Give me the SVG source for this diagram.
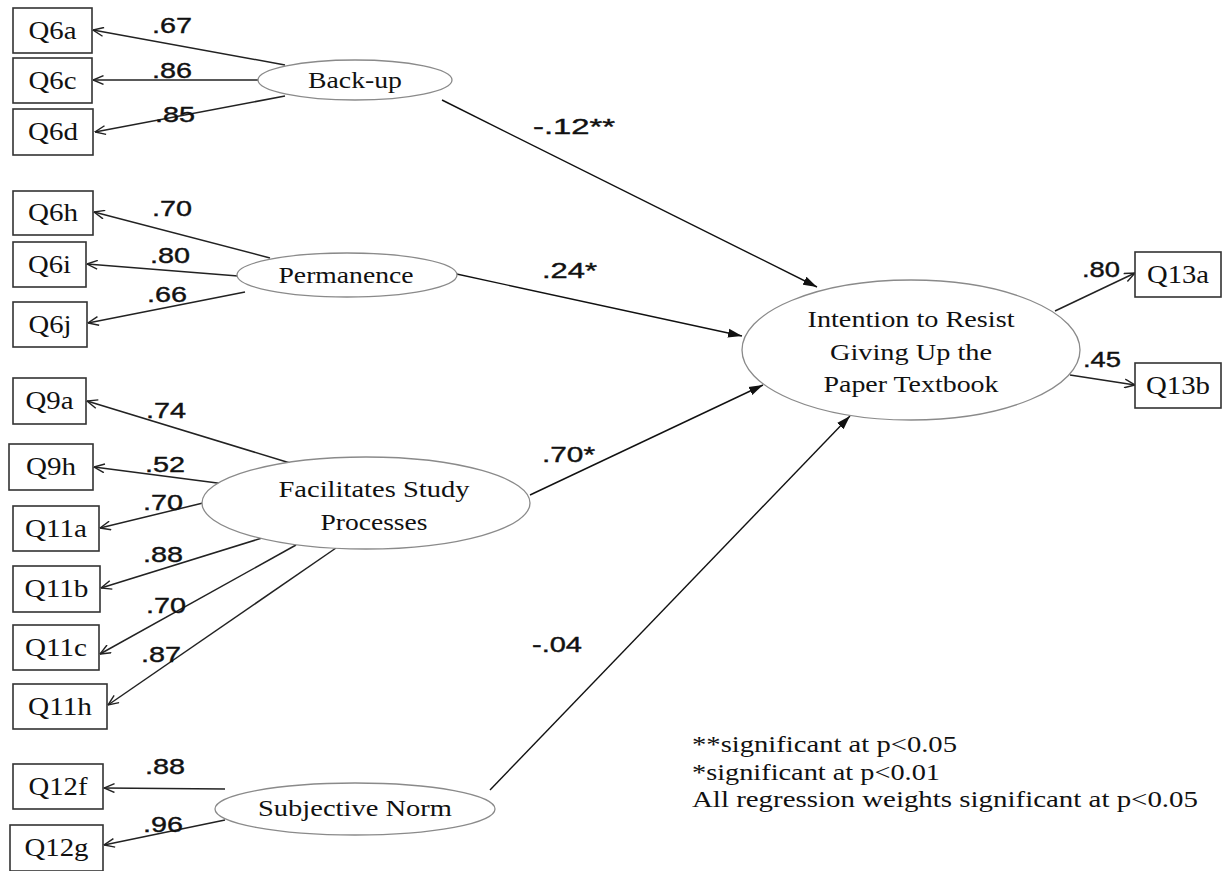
<svg xmlns="http://www.w3.org/2000/svg" width="1225" height="871" viewBox="0 0 1225 871">
<style>
  .box { fill: #ffffff; stroke: #333333; stroke-width: 1.6; }
  .lat { fill: #ffffff; stroke: #8a8a8a; stroke-width: 1.3; }
  .bt { font-family: "Liberation Serif", "Times New Roman", serif; font-size: 25px; fill: #111111; text-anchor: middle; }
  .et { font-family: "Liberation Serif", "Times New Roman", serif; font-size: 24px; fill: #111111; text-anchor: middle; }
  .lg { font-family: "Liberation Serif", "Times New Roman", serif; font-size: 23px; fill: #111111; }
  .num { font-family: "Liberation Sans", Arial, sans-serif; font-size: 22px; fill: #111111; stroke: #111111; stroke-width: 0.4; }
  .ind { stroke: #222222; stroke-width: 1.5; fill: none; marker-end: url(#open); }
  .path { stroke: #111111; stroke-width: 1.4; fill: none; marker-end: url(#solid); }
</style>
<defs>
  <marker id="open" viewBox="0 0 12 10" markerWidth="12" markerHeight="10" refX="11.5" refY="5" orient="auto" markerUnits="userSpaceOnUse">
    <path d="M1,0.6 L11.5,5 L1,9.4" fill="none" stroke="#222222" stroke-width="1.4"/>
  </marker>
  <marker id="solid" viewBox="0 0 14 10" markerWidth="14" markerHeight="10" refX="14" refY="5" orient="auto" markerUnits="userSpaceOnUse">
    <path d="M0,0.5 L14,5 L0,9.5 Z" fill="#111111"/>
  </marker>
</defs>
<rect width="1225" height="871" fill="#ffffff"/>

<g id="connectors">
  <line class="ind" x1="285" y1="65" x2="93" y2="30"/>
  <line class="ind" x1="258" y1="80" x2="93" y2="80"/>
  <line class="ind" x1="285" y1="96" x2="95" y2="132"/>
  <line class="ind" x1="270" y1="258" x2="94" y2="212"/>
  <line class="ind" x1="238" y1="276" x2="87" y2="264"/>
  <line class="ind" x1="245" y1="292" x2="88" y2="323"/>
  <line class="ind" x1="290" y1="463" x2="87" y2="401"/>
  <line class="ind" x1="225" y1="484" x2="94" y2="467"/>
  <line class="ind" x1="203" y1="503" x2="100" y2="528"/>
  <line class="ind" x1="262" y1="538" x2="101" y2="588"/>
  <line class="ind" x1="296" y1="545" x2="100" y2="654"/>
  <line class="ind" x1="336" y1="548" x2="108" y2="705"/>
  <line class="ind" x1="225" y1="789" x2="104" y2="788"/>
  <line class="ind" x1="225" y1="820" x2="104" y2="845"/>
  <line class="ind" x1="1055" y1="311" x2="1135" y2="273"/>
  <line class="ind" x1="1070" y1="375" x2="1135" y2="385"/>
  <line class="path" x1="442" y1="100" x2="817" y2="287"/>
  <line class="path" x1="452" y1="273" x2="742" y2="336"/>
  <line class="path" x1="530" y1="495" x2="763" y2="385"/>
  <line class="path" x1="490" y1="790" x2="850" y2="416"/>

  <text class="num" x="152" y="33" textLength="40" lengthAdjust="spacingAndGlyphs">.67</text>
  <text class="num" x="152" y="78" textLength="40" lengthAdjust="spacingAndGlyphs">.86</text>
  <text class="num" x="155" y="122" textLength="40" lengthAdjust="spacingAndGlyphs">.85</text>
  <text class="num" x="152" y="216" textLength="40" lengthAdjust="spacingAndGlyphs">.70</text>
  <text class="num" x="150" y="263" textLength="40" lengthAdjust="spacingAndGlyphs">.80</text>
  <text class="num" x="147" y="302" textLength="40" lengthAdjust="spacingAndGlyphs">.66</text>
  <text class="num" x="146" y="418" textLength="40" lengthAdjust="spacingAndGlyphs">.74</text>
  <text class="num" x="145" y="472" textLength="40" lengthAdjust="spacingAndGlyphs">.52</text>
  <text class="num" x="143" y="510" textLength="40" lengthAdjust="spacingAndGlyphs">.70</text>
  <text class="num" x="143" y="562" textLength="40" lengthAdjust="spacingAndGlyphs">.88</text>
  <text class="num" x="146" y="613" textLength="40" lengthAdjust="spacingAndGlyphs">.70</text>
  <text class="num" x="141" y="662" textLength="40" lengthAdjust="spacingAndGlyphs">.87</text>
  <text class="num" x="145" y="774" textLength="40" lengthAdjust="spacingAndGlyphs">.88</text>
  <text class="num" x="143" y="832" textLength="40" lengthAdjust="spacingAndGlyphs">.96</text>
  <text class="num" x="1082" y="277" textLength="38" lengthAdjust="spacingAndGlyphs">.80</text>
  <text class="num" x="1083" y="367" textLength="38" lengthAdjust="spacingAndGlyphs">.45</text>
  <text class="num" x="533" y="134" textLength="82" lengthAdjust="spacingAndGlyphs">-.12**</text>
  <text class="num" x="542" y="278" textLength="55" lengthAdjust="spacingAndGlyphs">.24*</text>
  <text class="num" x="542" y="462" textLength="53" lengthAdjust="spacingAndGlyphs">.70*</text>
  <text class="num" x="532" y="652" textLength="50" lengthAdjust="spacingAndGlyphs">-.04</text>
</g>

<g id="Q6a"><rect class="box" x="13" y="8" width="79" height="45"/><text class="bt" x="52.5" y="39" textLength="48" lengthAdjust="spacingAndGlyphs">Q6a</text></g>
<g id="Q6c"><rect class="box" x="13" y="58" width="79" height="45"/><text class="bt" x="52.5" y="89" textLength="48" lengthAdjust="spacingAndGlyphs">Q6c</text></g>
<g id="Q6d"><rect class="box" x="13" y="109" width="80" height="46"/><text class="bt" x="53" y="140" textLength="50" lengthAdjust="spacingAndGlyphs">Q6d</text></g>
<g id="Q6h"><rect class="box" x="13" y="191" width="80" height="44"/><text class="bt" x="53" y="221" textLength="50" lengthAdjust="spacingAndGlyphs">Q6h</text></g>
<g id="Q6i"><rect class="box" x="13" y="242" width="73" height="45"/><text class="bt" x="49.5" y="273" textLength="43" lengthAdjust="spacingAndGlyphs">Q6i</text></g>
<g id="Q6j"><rect class="box" x="13" y="302" width="74" height="45"/><text class="bt" x="50" y="333" textLength="43" lengthAdjust="spacingAndGlyphs">Q6j</text></g>
<g id="Q9a"><rect class="box" x="13" y="378" width="73" height="46"/><text class="bt" x="49.5" y="409" textLength="48" lengthAdjust="spacingAndGlyphs">Q9a</text></g>
<g id="Q9h"><rect class="box" x="9" y="444" width="84" height="46"/><text class="bt" x="51" y="475" textLength="50" lengthAdjust="spacingAndGlyphs">Q9h</text></g>
<g id="Q11a"><rect class="box" x="13" y="506" width="86" height="45"/><text class="bt" x="56" y="537" textLength="62" lengthAdjust="spacingAndGlyphs">Q11a</text></g>
<g id="Q11b"><rect class="box" x="13" y="566" width="87" height="46"/><text class="bt" x="56.5" y="597" textLength="64" lengthAdjust="spacingAndGlyphs">Q11b</text></g>
<g id="Q11c"><rect class="box" x="13" y="625" width="86" height="45"/><text class="bt" x="56" y="656" textLength="62" lengthAdjust="spacingAndGlyphs">Q11c</text></g>
<g id="Q11h"><rect class="box" x="13" y="684" width="94" height="45"/><text class="bt" x="60" y="715" textLength="64" lengthAdjust="spacingAndGlyphs">Q11h</text></g>
<g id="Q12f"><rect class="box" x="13" y="764" width="90" height="45"/><text class="bt" x="58" y="795" textLength="59" lengthAdjust="spacingAndGlyphs">Q12f</text></g>
<g id="Q12g"><rect class="box" x="10" y="825" width="93" height="46"/><text class="bt" x="56.5" y="856" textLength="64" lengthAdjust="spacingAndGlyphs">Q12g</text></g>
<g id="Q13a"><rect class="box" x="1135" y="252" width="86" height="45"/><text class="bt" x="1178" y="283" textLength="62" lengthAdjust="spacingAndGlyphs">Q13a</text></g>
<g id="Q13b"><rect class="box" x="1135" y="363" width="86" height="45"/><text class="bt" x="1178" y="394" textLength="64" lengthAdjust="spacingAndGlyphs">Q13b</text></g>

<g id="BackUp"><ellipse class="lat" cx="355" cy="80" rx="97" ry="20"/><text class="et" x="355" y="88" textLength="94" lengthAdjust="spacingAndGlyphs">Back-up</text></g>
<g id="Permanence"><ellipse class="lat" cx="347" cy="275" rx="110" ry="22"/><text class="et" x="346" y="283" textLength="135" lengthAdjust="spacingAndGlyphs">Permanence</text></g>
<g id="Facilitates"><ellipse class="lat" cx="366" cy="503" rx="164" ry="46"/><text class="et" x="374" y="497" textLength="191" lengthAdjust="spacingAndGlyphs">Facilitates Study</text><text class="et" x="374" y="530" textLength="107" lengthAdjust="spacingAndGlyphs">Processes</text></g>
<g id="SubjectiveNorm"><ellipse class="lat" cx="355" cy="809" rx="140" ry="26"/><text class="et" x="355" y="816" textLength="194" lengthAdjust="spacingAndGlyphs">Subjective Norm</text></g>
<g id="Intention"><ellipse class="lat" cx="911" cy="350" rx="169" ry="70"/>
  <text class="et" x="911" y="327" textLength="207" lengthAdjust="spacingAndGlyphs">Intention to Resist</text>
  <text class="et" x="911" y="360" textLength="162" lengthAdjust="spacingAndGlyphs">Giving Up the</text>
  <text class="et" x="911" y="392" textLength="175" lengthAdjust="spacingAndGlyphs">Paper Textbook</text>
</g>

<g id="legend">
  <text class="lg" x="692" y="752" textLength="265" lengthAdjust="spacingAndGlyphs">**significant at p&lt;0.05</text>
  <text class="lg" x="692" y="780" textLength="248" lengthAdjust="spacingAndGlyphs">*significant at p&lt;0.01</text>
  <text class="lg" x="692" y="807" textLength="506" lengthAdjust="spacingAndGlyphs">All regression weights significant at p&lt;0.05</text>
</g>
</svg>
